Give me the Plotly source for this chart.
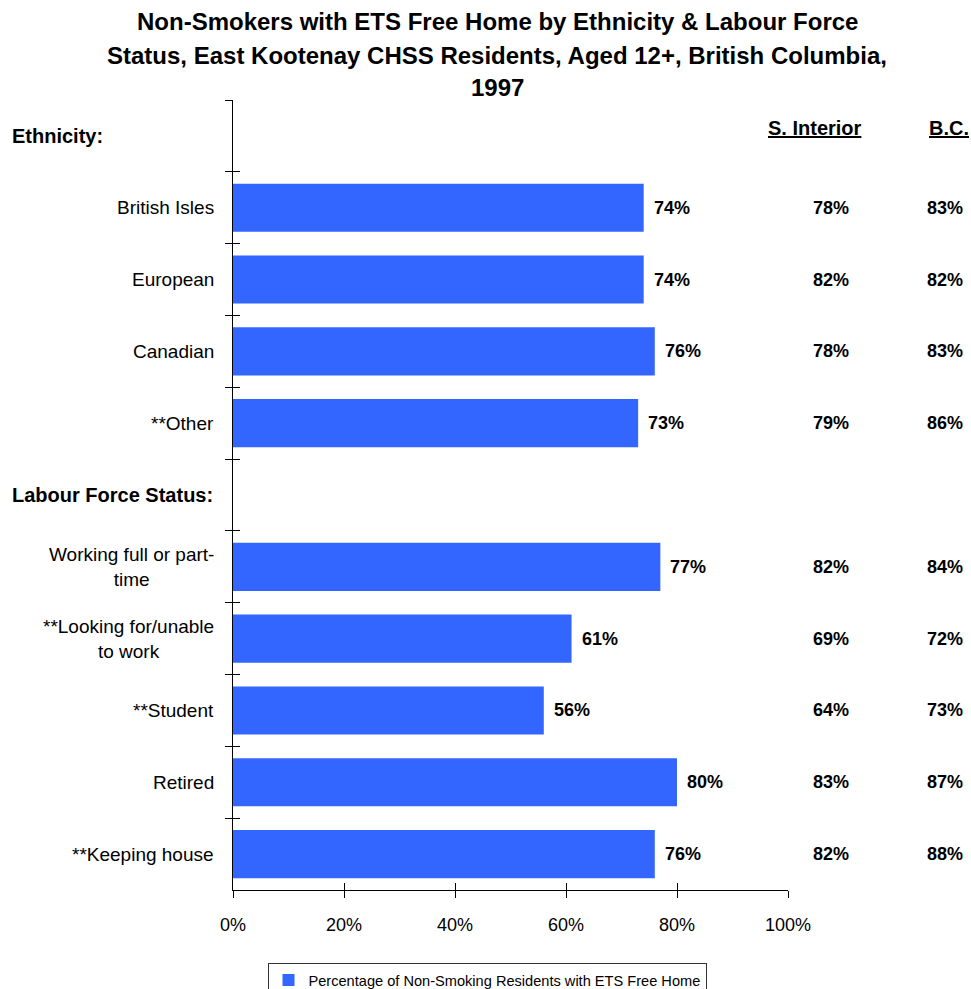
import plotly.graph_objects as go

categories = ["Ethnicity:", "British Isles", "European", "Canadian", "**Other",
              "Labour Force Status:", "Working full or part-<br>time",
              "**Looking for/unable<br>to work", "**Student", "Retired", "**Keeping house"]
is_header = [True, False, False, False, False, True, False, False, False, False, False]
east_kootenay = [None, 74, 74, 76, 73, None, 77, 61, 56, 80, 76]
s_interior = [None, 78, 82, 78, 79, None, 82, 69, 64, 83, 82]
bc = [None, 83, 82, 83, 86, None, 84, 72, 73, 87, 88]
x_ticks = [0, 20, 40, 60, 80, 100]
x_ticktext = ["0%", "20%", "40%", "60%", "80%", "100%"]
title_lines = ["Non-Smokers with ETS Free Home by Ethnicity & Labour Force",
               "Status, East Kootenay CHSS Residents, Aged 12+, British Columbia,",
               "1997"]

BLUE = "#3366FF"
FONT = "Liberation Sans"
W, H = 971, 989
L, R, T, B = 233, 183, 100, 99
pw = W - L - R
ph = H - T - B

fig = go.Figure()
fig.add_trace(go.Bar(
    y=categories, x=east_kootenay, orientation="h",
    marker=dict(color=BLUE, line=dict(width=0)),
    name="Percentage of Non-Smoking Residents with ETS Free Home",
    width=0.67, showlegend=True, hoverinfo="x+y",
))
# helper trace so the overlay axes (crossing tick marks) are drawn
fig.add_trace(go.Scatter(x=[None], y=[None], xaxis="x2", yaxis="y2", mode="markers",
                         showlegend=False, hoverinfo="skip"))

ann = []
for i, c in enumerate(categories):
    if is_header[i]:
        ann.append(dict(x=(10 - L) / pw, xref="paper", y=c, yref="y", text="<b>" + c + "</b>",
                        xanchor="left", showarrow=False, font=dict(size=20, color="black", family=FONT)))
    else:
        ann.append(dict(x=0, xref="x", y=c, yref="y", text=c, xanchor="right", align="center",
                        xshift=-17, showarrow=False, font=dict(size=19, color="black", family=FONT)))
        ann.append(dict(x=east_kootenay[i], xref="x", y=c, yref="y", text="<b>%d%%</b>" % east_kootenay[i],
                        xanchor="left", xshift=8, showarrow=False, font=dict(size=18, color="black", family=FONT)))
        ann.append(dict(x=(831 - L) / pw, xref="paper", y=c, yref="y", text="<b>%d%%</b>" % s_interior[i],
                        xanchor="center", showarrow=False, font=dict(size=18, color="black", family=FONT)))
        ann.append(dict(x=(945 - L) / pw, xref="paper", y=c, yref="y", text="<b>%d%%</b>" % bc[i],
                        xanchor="center", showarrow=False, font=dict(size=18, color="black", family=FONT)))

ann.append(dict(x=(815 - L) / pw, xref="paper", y=categories[0], yref="y", yshift=8,
                text="<b><u>S. Interior</u></b>", xanchor="center", showarrow=False,
                font=dict(size=20, color="black", family=FONT)))
ann.append(dict(x=(949 - L) / pw, xref="paper", y=categories[0], yref="y", yshift=8,
                text="<b><u>B.C.</u></b>", xanchor="center", showarrow=False,
                font=dict(size=20, color="black", family=FONT)))

for line, yc in zip(title_lines, [22, 56, 88]):
    ann.append(dict(x=(497 - L) / pw, xref="paper", y=1 + (T - yc) / ph, yref="paper",
                    text="<b>" + line + "</b>", xanchor="center", yanchor="middle", showarrow=False,
                    font=dict(size=24, color="black", family=FONT)))

n = len(categories)
fig.update_layout(
    width=W, height=H,
    margin=dict(l=L, r=R, t=T, b=B),
    paper_bgcolor="white", plot_bgcolor="white",
    xaxis=dict(range=[0, 100], tickvals=x_ticks, ticktext=x_ticktext, ticks="outside",
               ticklen=7, tickcolor="black", showline=True, linecolor="black", linewidth=1,
               showgrid=False, zeroline=False, ticklabelstandoff=11,
               tickfont=dict(size=18, color="black", family=FONT)),
    xaxis2=dict(range=[0, 100], tickvals=x_ticks, ticks="inside", ticklen=7, tickcolor="black",
                showticklabels=False, showline=False, showgrid=False, zeroline=False,
                overlaying="x", anchor="y2", side="bottom"),
    yaxis=dict(type="category", categoryarray=categories, categoryorder="array",
               range=[n - 0.5, -0.5], showticklabels=False, ticks="outside", ticklen=7,
               tickcolor="black", tickson="boundaries", showline=True, linecolor="black",
               linewidth=1, showgrid=False, zeroline=False),
    yaxis2=dict(range=[n - 0.5, -0.5], tickvals=[i - 0.5 for i in range(n + 1)], ticks="inside",
                ticklen=7, tickcolor="black", showticklabels=False, showline=False,
                showgrid=False, zeroline=False, overlaying="y", anchor="x2", side="left"),
    annotations=ann,
    showlegend=True,
    legend=dict(orientation="h", x=487 / W, xref="container", xanchor="center",
                y=1 - 963 / H, yref="container", yanchor="top",
                bordercolor="#333333", borderwidth=1, bgcolor="white",
                font=dict(size=14.6, color="black", family=FONT), itemwidth=30),
)

fig.write_html("out.html", config={"displayModeBar": False},
               post_script="document.body.style.margin='0';")
